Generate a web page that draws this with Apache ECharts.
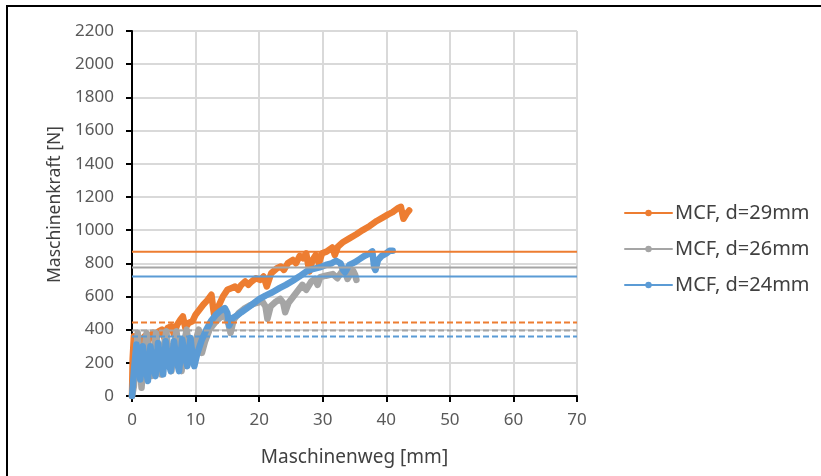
<!DOCTYPE html>
<html>
<head>
<meta charset="utf-8">
<script src="https://cdn.jsdelivr.net/npm/echarts@6/dist/echarts.min.js"></script>
<style>
  html, body { margin: 0; padding: 0; background: #fff; }
  #chart { width: 821px; height: 476px; }
</style>
</head>
<body>
<div id="chart"></div>
<script>
// Maschinenweg [mm] / Maschinenkraft [N]
var seriesNames = ["MCF, d=29mm", "MCF, d=26mm", "MCF, d=24mm"];
var colors = ["#ED7D31", "#A5A5A5", "#5B9BD5"];

var d29 = [[0,0],[0.1,220],[0.3,360],[0.6,330],[0.9,350],[1.2,300],[1.5,340],[2.0,360],[2.4,310],[2.8,360],[3.3,380],[3.7,330],[4.2,390],[4.7,400],[5.1,350],[5.6,410],[6.2,420],[6.6,370],[7.1,430],[7.6,460],[8.0,480],[8.4,410],[8.9,440],[9.5,450],[10.0,490],[10.6,520],[11.2,550],[11.8,575],[12.5,610],[12.8,520],[13.0,470],[13.6,540],[14.3,600],[15.0,640],[15.6,650],[16.2,660],[16.7,640],[17.2,670],[17.8,690],[18.3,670],[18.8,690],[19.5,710],[20.2,700],[20.7,720],[21.2,660],[21.9,740],[22.8,770],[23.4,780],[23.9,760],[24.5,800],[25.3,820],[25.8,800],[26.4,845],[26.9,830],[27.4,860],[27.9,750],[28.4,820],[28.9,850],[29.4,800],[29.9,860],[30.6,870],[31.5,895],[31.9,850],[32.4,900],[33.1,925],[34.2,950],[35.3,975],[36.3,1000],[37.4,1025],[38.5,1055],[39.5,1077],[40.3,1095],[41.0,1108],[41.8,1132],[42.3,1140],[42.7,1068],[43.2,1100],[43.6,1118]];

var d26 = [[0,0],[0.3,60],[0.6,250],[0.9,380],[1.2,200],[1.5,50],[1.9,250],[2.3,380],[2.7,220],[3.0,120],[3.4,280],[3.8,380],[4.2,230],[4.6,130],[5.0,300],[5.4,390],[5.8,240],[6.2,150],[6.6,310],[7.0,390],[7.4,250],[7.8,150],[8.2,320],[8.6,400],[9.0,280],[9.5,200],[10.0,330],[10.5,400],[11.0,260],[11.5,330],[12.2,400],[13.0,440],[13.8,470],[14.6,490],[15.2,430],[15.5,380],[16.0,460],[16.8,500],[17.6,525],[18.5,545],[19.5,560],[20.5,570],[21.0,540],[21.3,465],[21.8,540],[22.5,565],[23.3,585],[23.8,560],[24.1,505],[24.6,560],[25.3,595],[26.2,640],[26.8,670],[27.4,640],[28.2,690],[28.8,705],[29.2,670],[29.6,716],[30.5,725],[31.6,735],[32.3,710],[33.1,755],[33.6,740],[33.9,705],[34.4,740],[34.8,755],[35.1,730],[35.3,700]];

var d24 = [[0,0],[0.3,150],[0.7,310],[1.0,200],[1.3,100],[1.7,300],[2.1,180],[2.5,90],[2.9,300],[3.3,190],[3.7,120],[4.1,320],[4.5,200],[4.9,130],[5.3,330],[5.7,210],[6.1,150],[6.6,330],[7.0,220],[7.4,150],[7.9,340],[8.3,240],[8.7,180],[9.2,350],[9.5,250],[9.8,180],[10.3,260],[11.0,340],[11.7,400],[12.4,450],[13.2,490],[13.8,510],[14.6,530],[15.0,500],[15.3,425],[15.8,470],[16.5,485],[17.2,505],[18.5,540],[20.0,584],[21.0,605],[22.1,625],[23.2,650],[24.2,670],[25.3,695],[26.3,720],[27.4,750],[28.4,765],[29.5,775],[30.5,790],[31.4,800],[32.1,815],[32.8,800],[33.2,760],[33.5,745],[34.2,790],[35.0,805],[35.8,825],[36.6,845],[37.4,860],[37.8,872],[38.1,775],[38.3,760],[38.7,820],[39.3,845],[40.0,860],[40.5,875],[41.0,875]];

// horizontal reference levels (solid and dashed) per diameter
var solidLevels = [870, 775, 720];
var dashedLevels = [443, 395, 358];
var xRange = [0, 70];

var chart = echarts.init(document.getElementById("chart"));

var series = [];
[d29, d26, d24].forEach(function (data, i) {
  series.push({
    name: seriesNames[i],
    type: "line",
    data: data,
    showSymbol: false,
    symbol: "circle",
    symbolSize: 5,
    color: colors[i],
    lineStyle: { width: 6.5, cap: "round", join: "round" },
    z: 2 + i
  });
});
solidLevels.forEach(function (v, i) {
  series.push({
    type: "line",
    data: [[xRange[0], v], [xRange[1], v]],
    showSymbol: false,
    silent: true,
    lineStyle: { width: 2, color: colors[i] },
    z: 6
  });
});
dashedLevels.forEach(function (v, i) {
  series.push({
    type: "line",
    data: [[xRange[0], v], [xRange[1], v]],
    showSymbol: false,
    silent: true,
    lineStyle: { width: 2, color: colors[i], type: [6, 3] },
    z: 6
  });
});

var option = {
  animation: false,
  textStyle: { fontFamily: "Noto Sans" },
  graphic: [{
    type: "rect",
    shape: { x: 7, y: 6, width: 840, height: 500 },
    style: { fill: null, stroke: "#000", lineWidth: 2 }
  }],
  grid: { left: 132, right: 244, top: 31, bottom: 80 },
  legend: {
    data: seriesNames,
    orient: "vertical",
    left: 619,
    top: 198,
    itemWidth: 47,
    itemHeight: 8,
    itemGap: 16,
    textStyle: { fontSize: 20, color: "#404040", fontFamily: "Noto Sans", padding: [0, 0, 0, -2] }
  },
  xAxis: {
    type: "value",
    min: 0, max: 70, interval: 10,
    name: "Maschinenweg [mm]",
    nameLocation: "middle",
    nameGap: 52,
    nameTextStyle: { fontSize: 19, color: "#404040" },
    axisLine: { lineStyle: { color: "#000", width: 2 } },
    axisTick: { show: true, length: 6, lineStyle: { color: "#000", width: 2 } },
    axisLabel: { fontSize: 17, color: "#595959", margin: 16 },
    splitLine: { lineStyle: { color: "#d9d9d9", width: 2 } }
  },
  yAxis: {
    type: "value",
    min: 0, max: 2200, interval: 200,
    name: "Maschinenkraft [N]",
    nameLocation: "middle",
    nameGap: 64,
    nameTextStyle: { fontSize: 17.5, color: "#404040", padding: [0, 0, 0, 18] },
    axisLine: { show: true, lineStyle: { color: "#000", width: 2 } },
    axisTick: { show: true, length: 6, lineStyle: { color: "#000", width: 2 } },
    axisLabel: { fontSize: 17, color: "#595959", margin: 18, formatter: function (v) { return String(v); } },
    splitLine: { lineStyle: { color: "#d9d9d9", width: 2 } }
  },
  series: series
};

chart.setOption(option);
</script>
</body>
</html>
